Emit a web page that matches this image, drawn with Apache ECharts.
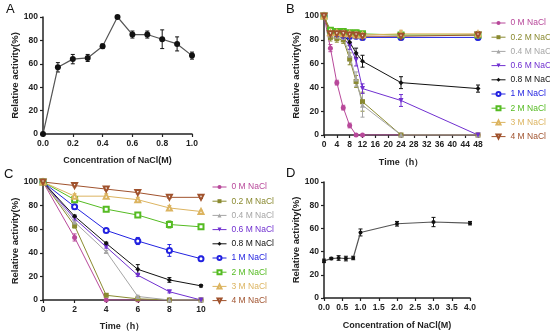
<!DOCTYPE html>
<html><head><meta charset="utf-8">
<script src="https://cdn.jsdelivr.net/npm/echarts@6/dist/echarts.min.js"></script>
<style>html,body{margin:0;padding:0;background:#fff}#c{width:550px;height:333px}</style>
</head><body><div id="c"></div>
<script>
// ---- Panel A ----
const concA = [0, 0.1, 0.2, 0.3, 0.4, 0.5, 0.6, 0.7, 0.8, 0.9, 1.0];
const actA  = [0, 57, 64, 65, 75, 100, 85, 85, 81, 77, 67];
const errA  = [0, 4, 4, 3, 2, 0, 3, 3, 8, 6, 3];

// ---- Panel B ----
const timeB = [0, 2, 4, 6, 8, 10, 12, 24, 48];
const seriesNames = ['0 M NaCl', '0.2 M NaCl', '0.4 M NaCl', '0.6 M NaCl', '0.8 M NaCl', '1 M NaCl', '2 M NaCl', '3 M NaCl', '4 M NaCl'];
const b_0   = [100, 73, 44, 23, 8, 0, 0, 0, 0];
const b_02  = [100, 82, 81, 80, 64, 45, 28, 0, 0];
const b_04  = [100, 84, 83, 82, 67, 47, 25, 0, 0];
const b_06  = [100, 85, 84, 82, 75, 63, 39, 29, 0];
const b_08  = [100, 86, 85, 84, 78, 69, 62, 44, 39];
const b_1   = [100, 86, 85, 84, 83, 83, 82, 82, 82];
const b_2   = [100, 88, 87, 87, 86, 86, 85, 84, 84];
const b_3   = [100, 86, 86, 85, 85, 84, 84, 85, 85];
const b_4   = [100, 85, 85, 85, 84, 84, 83, 83, 84];
const be_0  = [0, 3, 2, 2, 2, 0, 0, 0, 0];
const be_02 = [0, 3, 3, 3, 5, 5, 8, 0, 0];
const be_04 = [0, 3, 3, 3, 5, 6, 10, 0, 0];
const be_06 = [0, 2, 2, 2, 3, 5, 4, 5, 0];
const be_08 = [0, 2, 2, 2, 3, 4, 5, 5, 3];
const be_1  = [0, 2, 2, 2, 2, 2, 2, 2, 2];
const be_2  = [0, 2, 2, 2, 2, 2, 2, 2, 2];
const be_3  = [0, 2, 2, 2, 2, 2, 2, 3, 2];
const be_4  = [0, 2, 2, 2, 2, 2, 2, 2, 3];

// ---- Panel C ----
const timeC = [0, 2, 4, 6, 8, 10];
const c_0   = [100, 53, 0, 0, 0, 0];
const c_02  = [100, 63, 4, 1, 0, 0];
const c_04  = [100, 66, 41, 3, 0, 0];
const c_06  = [100, 69, 45, 21, 7, 0];
const c_08  = [100, 71, 48, 26, 17, 12];
const c_1   = [100, 79, 59, 50, 42, 35];
const c_2   = [100, 85, 77, 72, 64, 62];
const c_3   = [100, 88, 88, 85, 78, 75];
const c_4   = [100, 97, 94, 91, 87, 87];
const ce_0  = [0, 3, 0, 0, 0, 0];
const ce_02 = [0, 2, 1, 1, 0, 0];
const ce_04 = [0, 2, 1, 1, 0, 0];
const ce_06 = [0, 2, 1, 1, 1, 0];
const ce_08 = [0, 1, 1, 4, 2, 1];
const ce_1  = [0, 2, 1, 3, 5, 2];
const ce_2  = [0, 2, 2, 1, 3, 2];
const ce_3  = [0, 2, 2, 2, 2, 1];
const ce_4  = [0, 1, 1, 1, 1, 1];

// ---- Panel D ----
const concD = [0, 0.2, 0.4, 0.6, 0.8, 1.0, 2.0, 3.0, 4.0];
const actD  = [32, 34, 34.5, 34, 34.5, 56.5, 64, 65.5, 64.5];
const errD  = [1.5, 1, 2, 2, 1.5, 3, 2, 4, 1.5];

// ---- tick labels ----
const yTicks = [0, 20, 40, 60, 80, 100];

const colors  = ['#b8489a', '#8a8a30', '#a6a6a6', '#7030d0', '#111111', '#2222e0', '#55bb22', '#dcb460', '#a0522d'];
const symbols = ['circle', 'rect', 'triangle', 'triangle', 'diamond', 'emptyCircle', 'emptyRect', 'emptyTriangle', 'emptyTriangle'];
const rotates = [0, 0, 0, 180, 0, 0, 0, 0, 180];

const FONT = "'Liberation Sans', Arial, sans-serif";

function zip(xs, ys) { return xs.map((x, i) => [x, ys[i]]); }
function errData(xs, ys, es) {
  const out = [];
  xs.forEach((x, i) => { if (es[i] > 0) out.push([x, ys[i] - es[i], ys[i] + es[i]]); });
  return out;
}
function errSeries(idx, xs, ys, es, color) {
  return {
    type: 'custom', xAxisIndex: idx, yAxisIndex: idx, silent: true, z: 1,
    itemStyle: { color: color },
    data: errData(xs, ys, es),
    renderItem: function (params, api) {
      const x = api.value(0);
      const p1 = api.coord([x, api.value(1)]);
      const p2 = api.coord([x, api.value(2)]);
      const w = 2;
      const st = { stroke: api.visual('color'), lineWidth: 1 };
      return {
        type: 'group', children: [
          { type: 'line', shape: { x1: p1[0], y1: p1[1], x2: p2[0], y2: p2[1] }, style: st },
          { type: 'line', shape: { x1: p1[0] - w, y1: p1[1], x2: p1[0] + w, y2: p1[1] }, style: st },
          { type: 'line', shape: { x1: p2[0] - w, y1: p2[1], x2: p2[0] + w, y2: p2[1] }, style: st }
        ]
      };
    }
  };
}

function xAx(idx, min, max, interval, dec, name, gap) {
  return {
    type: 'value', gridIndex: idx, min: min, max: max, interval: interval,
    name: name, nameLocation: 'middle', nameGap: gap,
    nameTextStyle: { fontFamily: FONT, fontSize: 9, fontWeight: 'bold', color: '#222' },
    axisLine: { show: true, onZero: false, lineStyle: { color: '#222', width: 1.5 } },
    axisTick: { show: true, length: 3, lineStyle: { color: '#222', width: 1.2 } },
    splitLine: { show: false },
    axisLabel: {
      fontFamily: FONT, fontSize: 8.5, fontWeight: 'bold', color: '#222', margin: 5,
      formatter: function (v) { return dec ? v.toFixed(dec) : String(v); }
    }
  };
}
function yAx(idx, gap) {
  return {
    type: 'value', gridIndex: idx, min: yTicks[0], max: yTicks[yTicks.length - 1], interval: yTicks[1] - yTicks[0],
    name: 'Relative activity(%)', nameLocation: 'middle', nameGap: gap,
    nameTextStyle: { fontFamily: FONT, fontSize: 9.5, fontWeight: 'bold', color: '#222' },
    axisLine: { show: true, onZero: false, lineStyle: { color: '#222', width: 1.5 } },
    axisTick: { show: true, length: 3, lineStyle: { color: '#222', width: 1.2 } },
    splitLine: { show: false },
    axisLabel: { fontFamily: FONT, fontSize: 8.5, fontWeight: 'bold', color: '#222', margin: 5 }
  };
}

const bData = [b_0, b_02, b_04, b_06, b_08, b_1, b_2, b_3, b_4];
const bErr  = [be_0, be_02, be_04, be_06, be_08, be_1, be_2, be_3, be_4];
const cData = [c_0, c_02, c_04, c_06, c_08, c_1, c_2, c_3, c_4];
const cErr  = [ce_0, ce_02, ce_04, ce_06, ce_08, ce_1, ce_2, ce_3, ce_4];

const series = [];
// Panel A
series.push(errSeries(0, concA, actA, errA, '#111'));
series.push({
  type: 'line', name: 'A', xAxisIndex: 0, yAxisIndex: 0, data: zip(concA, actA),
  symbol: 'circle', symbolSize: 6, lineStyle: { color: '#555', width: 1.2 }, itemStyle: { color: '#111' }, z: 3
});
// Panel B & C
function groupSeries(idx, xs, datas, errs) {
  datas.forEach((d, i) => {
    series.push(errSeries(idx, xs, d, errs[i], colors[i]));
  });
  datas.forEach((d, i) => {
    series.push({
      type: 'line', name: seriesNames[i], xAxisIndex: idx, yAxisIndex: idx, data: zip(xs, d),
      symbol: symbols[i], symbolRotate: rotates[i], symbolSize: 5,
      lineStyle: { color: colors[i], width: 1 }, itemStyle: { color: colors[i], borderWidth: 1.2 }, z: 3
    });
  });
}
groupSeries(1, timeB, bData, bErr);
groupSeries(2, timeC, cData, cErr);
// Panel D
series.push(errSeries(3, concD, actD, errD, '#111'));
series.push({
  type: 'line', name: 'D', xAxisIndex: 3, yAxisIndex: 3, data: zip(concD, actD),
  symbol: 'circle', symbolSize: 4, lineStyle: { color: '#555', width: 1.2 }, itemStyle: { color: '#111' }, z: 3
});

function legendData() {
  return seriesNames.map((n, i) => ({ name: n, textStyle: { color: colors[i] } }));
}
const legendCommon = {
  orient: 'vertical', selectedMode: false, itemWidth: 14, itemHeight: 5, itemGap: 2.2, itemStyle: { borderWidth: 1 },
  lineStyle: { width: 1 },
  textStyle: { fontFamily: FONT, fontSize: 8.5, lineHeight: 12 }
};

const option = {
  animation: false,
  backgroundColor: '#fff',
  grid: [
    { left: 43, top: 17, width: 149, height: 117 },
    { left: 324, top: 16, width: 154, height: 119 },
    { left: 43, top: 182, width: 158, height: 118 },
    { left: 324, top: 182, width: 146, height: 116 }
  ],
  xAxis: [
    xAx(0, 0, 1, 0.2, 1, 'Concentration of NaCl(M)', 22),
    xAx(1, 0, 48, 4, 0, 'Time（h）', 23),
    xAx(2, 0, 10, 2, 0, 'Time（h）', 22),
    xAx(3, 0, 4, 0.5, 1, 'Concentration of NaCl(M)', 23)
  ],
  yAxis: [yAx(0, 20), yAx(1, 20), yAx(2, 21), yAx(3, 19)],
  legend: [
    Object.assign({ left: 486, top: 12, data: legendData() }, legendCommon),
    Object.assign({ left: 207, top: 176, data: legendData() }, legendCommon)
  ],
  graphic: [
    { type: 'text', left: 6, top: 3, style: { text: 'A', font: '13px ' + FONT, fill: '#111' } },
    { type: 'text', left: 286, top: 3, style: { text: 'B', font: '13px ' + FONT, fill: '#111' } },
    { type: 'text', left: 4, top: 168, style: { text: 'C', font: '13px ' + FONT, fill: '#111' } },
    { type: 'text', left: 286, top: 167, style: { text: 'D', font: '13px ' + FONT, fill: '#111' } }
  ],
  series: series
};

const chart = echarts.init(document.getElementById('c'), null, { renderer: 'canvas' });
chart.setOption(option);
</script>
</body></html>
